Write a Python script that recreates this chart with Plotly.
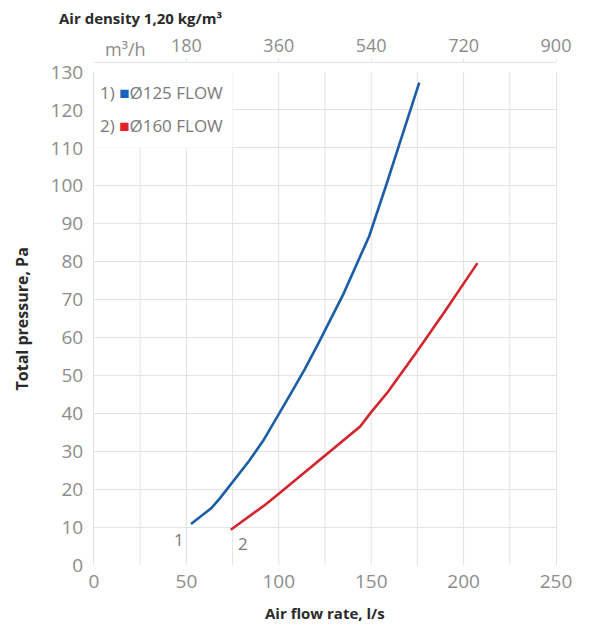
import plotly.graph_objects as go

# Ø125 FLOW curve (l/s, Pa)
flow_125 = [52.5, 58, 63.5, 68, 72, 78, 84, 91.6, 100, 106, 114, 121.7, 135, 148.9, 158, 165, 176]
pres_125 = [10.8, 12.8, 15, 17.5, 20, 23.5, 27.5, 32.8, 39.6, 44.8, 51.6, 58.7, 71.5, 86.7, 100, 110.4, 127.2]

# Ø160 FLOW curve (l/s, Pa)
flow_160 = [74, 80, 87, 93, 100, 112, 125, 135, 144, 150, 159, 174, 190, 207.5]
pres_160 = [9.3, 11.4, 13.8, 16.0, 18.8, 23.6, 28.9, 32.9, 36.5, 40.3, 45.6, 55.8, 67, 79.6]

x_ticks = [0, 50, 100, 150, 200, 250]
y_ticks = list(range(0, 131, 10))
top_ticks = [180, 360, 540, 720, 900]  # m3/h

BLUE = "#1b5ea6"
RED = "#d3252e"
GRID = "#e3e3e3"
TICK = "#8c8c8c"
FONT = "Open Sans"

fig = go.Figure()

fig.add_trace(go.Scatter(x=flow_125, y=pres_125, mode="lines",
                         line=dict(color=BLUE, width=2.6), showlegend=False,
                         hoverinfo="skip"))
fig.add_trace(go.Scatter(x=flow_160, y=pres_160, mode="lines",
                         line=dict(color=RED, width=2.6), showlegend=False,
                         hoverinfo="skip"))
# invisible trace to carry the m3/h axis
fig.add_trace(go.Scatter(x=[flow * 3.6 for flow in x_ticks], y=[None] * len(x_ticks),
                         xaxis="x2", mode="lines", showlegend=False, hoverinfo="skip"))

# white box behind the legend text, on top of the grid
fig.add_shape(type="rect", xref="x", yref="y", x0=0, x1=75, y0=110, y1=130,
              fillcolor="white", line=dict(width=0), layer="between")

# the page body adds 8px, so the figure is 8px smaller and margins shifted
fig.update_layout(
    width=592, height=632,
    margin=dict(l=86, r=44, t=54, b=75),
    paper_bgcolor="white", plot_bgcolor="white",
    font=dict(family=FONT, color=TICK, size=17),
    xaxis=dict(range=[0, 250], tickvals=x_ticks, showgrid=False,
               zeroline=False, showline=False, ticks="", ticklabelstandoff=3,
               tickfont=dict(size=19, color=TICK)),
    yaxis=dict(range=[0, 130], tickvals=y_ticks, domain=[0, 493 / 503],
               gridcolor=GRID, gridwidth=1, zeroline=False, showline=True,
               linecolor=GRID, mirror=True, ticks="", ticklen=0,
               ticklabelstandoff=6, tickfont=dict(size=19, color=TICK)),
    xaxis2=dict(range=[0, 900], tickvals=top_ticks, overlaying="x", side="top",
                anchor="free", position=1, showgrid=False, zeroline=False,
                showline=True, linecolor=GRID, ticks="outside", ticklen=3,
                tickcolor=GRID, tickfont=dict(size=18, color=TICK)),
)

# vertical grid every 25 l/s drawn as shapes in the x data space
for v in range(25, 250, 25):
    fig.add_shape(type="line", xref="x", yref="y", x0=v, x1=v, y0=0, y1=130,
                  line=dict(color=GRID, width=1), layer="below")

ann = []
ann.append(dict(text="<b>Air density 1,20 kg/m³</b>", xref="paper", yref="paper",
                x=-0.08, y=1.0875, xanchor="left", yanchor="middle", showarrow=False,
                font=dict(size=15, color="#2a2a2a")))
ann.append(dict(text="m³/h", xref="x", yref="paper", x=17, y=1.026,
                xanchor="center", yanchor="middle", showarrow=False,
                font=dict(size=18, color=TICK)))
ann.append(dict(text="<b>Total pressure, Pa</b>", xref="paper", yref="paper",
                x=-0.156, y=0.5 * 493 / 503, textangle=-90, xanchor="center",
                yanchor="middle", showarrow=False, font=dict(size=16, color="#2a2a2a")))
ann.append(dict(text="<b>Air flow rate, l/s</b>", xref="paper", yref="paper",
                x=0.5, y=-0.0954, xanchor="center", yanchor="middle", showarrow=False,
                font=dict(size=15, color="#2a2a2a")))
ann.append(dict(text="1) <span style='color:#1565c0'>■</span>Ø125 FLOW", xref="x", yref="y",
                x=2, y=124.5, xanchor="left", yanchor="middle", showarrow=False,
                font=dict(size=17, color="#7a7a7a")))
ann.append(dict(text="2) <span style='color:#e0202a'>■</span>Ø160 FLOW", xref="x", yref="y",
                x=2, y=115.8, xanchor="left", yanchor="middle", showarrow=False,
                font=dict(size=17, color="#7a7a7a")))
ann.append(dict(text="1", xref="x", yref="y", x=46, y=6.6, showarrow=False,
                font=dict(size=17, color="#7a7a7a")))
ann.append(dict(text="2", xref="x", yref="y", x=80.8, y=5.7, showarrow=False,
                font=dict(size=17, color="#7a7a7a")))
fig.update_layout(annotations=ann)

fig.write_html("out.html")
